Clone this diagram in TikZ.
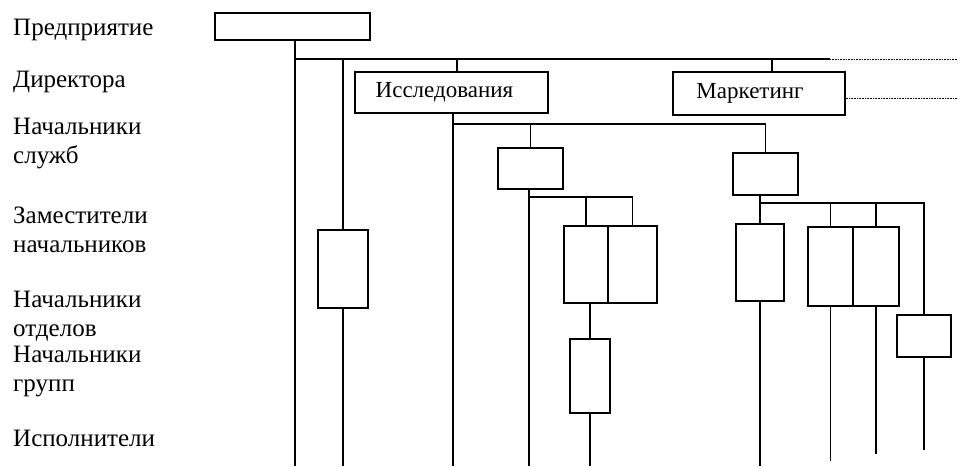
\documentclass[tikz,border=0pt]{standalone}
\usepackage{fontspec}
\setmainfont{Liberation Serif}
\usetikzlibrary{positioning, calc}
\tikzset{
  unit/.style={rectangle, draw=black, line width=1.6pt, inner sep=0pt,
               font=\fontsize{23}{27}\selectfont},
  link/.style={line width=1.6pt},
  thinlink/.style={line width=0.6pt, densely dotted},
  level/.style={anchor=base west, align=left, inner sep=0pt,
                font=\fontsize{25}{29}\selectfont},
}

\begin{document}
\begin{tikzpicture}[x=1pt, y=-1pt]
    \useasboundingbox (0,0) rectangle (958,466);
    % Level captions (base = last line)
    \node[level] (lvA) at (13,35)  {Предприятие};
    \node[level] (lvB) at (13,87)  {Директора};
    \node[level] (lvC) at (13,163) {Начальники\\служб};
    \node[level] (lvD) at (13,252) {Заместители\\начальников};
    \node[level] (lvE) at (13,336) {Начальники\\отделов};
    \node[level] (lvF) at (13,391) {Начальники\\групп};
    \node[level] (lvG) at (13,446) {Исполнители};
    % Units
    \node[unit, minimum width=155, minimum height=27] (ent)   at (292.5,26.5) {};
    \node[unit, minimum width=193, minimum height=41] (res)   at (451.5,92.5) {Исследования\rule{14pt}{0pt}};
    \node[unit, minimum width=172, minimum height=43] (mkt)   at (759,93.5)   {Маркетинг\rule{18pt}{0pt}};
    \node[unit, minimum width=65,  minimum height=41] (resS)  at (530.5,168.5) {};
    \node[unit, minimum width=65,  minimum height=42] (mktS)  at (765.5,174)  {};
    \node[unit, minimum width=50,  minimum height=78] (zam)   at (343,269)    {};
    \node[unit, minimum width=44,  minimum height=77] (resZa) at (586,264.5)  {};
    \node[unit, minimum width=49,  minimum height=77] (resZb) at (632.5,264.5) {};
    \node[unit, minimum width=40,  minimum height=74] (resO)  at (590,376)    {};
    \node[unit, minimum width=48,  minimum height=77] (mktZ)  at (760,262.5)  {};
    \node[unit, minimum width=45,  minimum height=79] (mktZa) at (830.5,266.5) {};
    \node[unit, minimum width=46,  minimum height=79] (mktZb) at (876,266.5)  {};
    \node[unit, minimum width=54,  minimum height=42] (mktO)  at (924,336)    {};
    % Junctions
    \coordinate (top)    at (295,59);
    \coordinate (topR)   at (830,59);
    \coordinate (edgeR)  at (958,59);
    \coordinate (mktOut) at (958,98);
    \coordinate (resT)   at (457,59);
    \coordinate (mktT)   at (772,59);
    \coordinate (resB)   at (453,124);
    \coordinate (rsB)    at (529,197);
    \coordinate (msB)    at (762,203);
    \coordinate (bot)    at (0,466);
    % Enterprise bus
    \draw[link] (ent.south -| top) -- (top |- bot);
    \draw[link] (top) -- (topR);
    \draw[thinlink] (topR) -- (edgeR);
    \draw[link] (zam.north |- top) -- (zam.north);
    \draw[link] (zam.south) -- (zam.south |- bot);
    \draw[link] (resT) -- (resT |- res.north);
    \draw[link] (mktT) -- (mktT |- mkt.north);
    \draw[thinlink] (mktOut -| mkt.east) -- (mktOut);
    % Research branch
    \draw[link] (resB |- res.south) -- (resB |- bot);
    \draw[link] (resB) -| (mktS.north);
    \draw[link] (resS.north |- resB) -- (resS.north);
    \draw[link] (rsB |- resS.south) -- (rsB |- bot);
    \draw[link] (rsB) -| (resZb.north);
    \draw[link] (resZa.north |- rsB) -- (resZa.north);
    \draw[link] (resO.north |- resZa.south) -- (resO.north);
    \draw[link] (resO.south) -- (resO.south |- bot);
    % Marketing branch
    \draw[link] (mktZ.north |- mktS.south) -- (mktZ.north);
    \draw[link] (mktZ.north |- msB) -| (mktO.north);
    \draw[link] (mktZa.north |- msB) -- (mktZa.north);
    \draw[link] (mktZb.north |- msB) -- (mktZb.north);
    \draw[link] (mktZ.south) -- (mktZ.south |- bot);
    \draw[link] (mktZa.south) -- ++(0,154);
    \draw[link] (mktZb.south) -- ++(0,147);
    \draw[link] (mktO.south) -- ++(0,92);
\end{tikzpicture}
\end{document}
